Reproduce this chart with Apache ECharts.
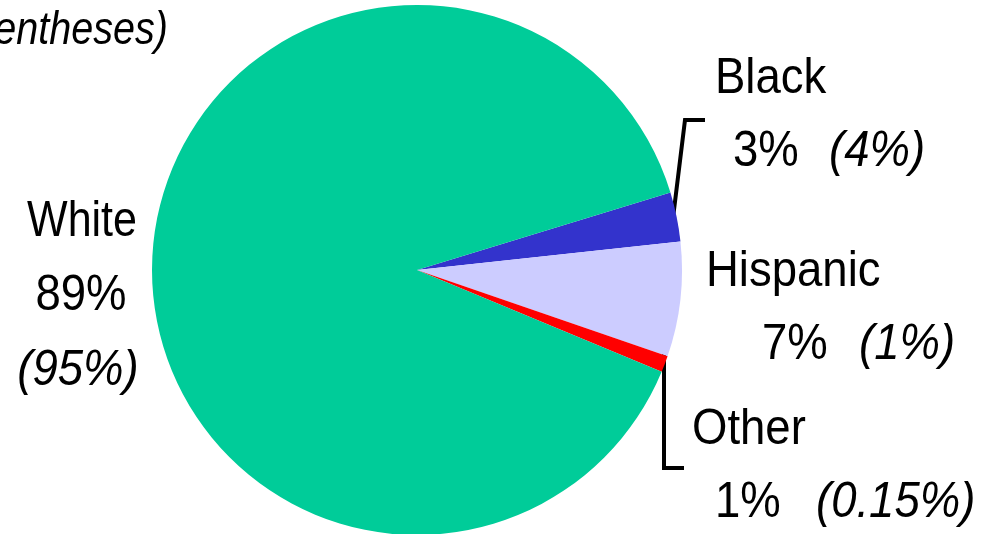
<!DOCTYPE html>
<html>
<head>
<meta charset="utf-8">
<script src="https://cdn.jsdelivr.net/npm/echarts@6/dist/echarts.min.js"></script>
<style>
  html, body { margin: 0; padding: 0; background: #fff; }
  #chart { width: 986px; height: 534px; }
</style>
</head>
<body>
<div id="chart"></div>
<script>
// slices in drawing order (clockwise from the top edge of Black)
var categories = ['Black', 'Hispanic', 'Other', 'White']
var shares = [3, 7, 1, 89]
var earlierShares = ['4%', '1%', '0.15%', '95%']
var colors = ['#3333cc', '#ccccff', '#ff0000', '#00cc99']
var titleText = '(Earlier percentages in parentheses)'

var FONT = '"Liberation Sans", Arial, sans-serif'
var NARROW = 0.91 // no narrow face installed, squeeze the regular one

var chart = echarts.init(document.getElementById('chart'))

function txt (x, y, s, opts) {
  opts = opts || {}
  return {
    type: 'text',
    x: x,
    y: y,
    scaleX: opts.scale || NARROW,
    style: {
      text: s,
      fill: '#000',
      font: (opts.italic ? 'italic ' : '') + (opts.size || 50) + 'px ' + FONT,
      textAlign: opts.align || 'left',
      textVerticalAlign: 'middle'
    }
  }
}

// label placement: [name x, name y, pct x, pct y, earlier x]
var labelPos = {
  Black: [715, 79, 733, 152, 829],
  Hispanic: [706, 272, 762, 345, 859],
  Other: [692, 430, 715, 503, 816]
}

var graphics = [txt(168, 31, titleText, { italic: true, size: 46, align: 'right', scale: 0.86 })]
categories.forEach(function (c, i) {
  if (c === 'White') {
    graphics.push(txt(82, 222, c, { align: 'center', scale: 0.86 }))
    graphics.push(txt(81, 296, shares[i] + '%', { align: 'center' }))
    graphics.push(txt(78, 371, '(' + earlierShares[i] + ')', { italic: true, align: 'center' }))
  } else {
    var p = labelPos[c]
    graphics.push(txt(p[0], p[1], c))
    graphics.push(txt(p[2], p[3], shares[i] + '%'))
    graphics.push(txt(p[4], p[3], '(' + earlierShares[i] + ')', { italic: true }))
  }
})
// bracket leaders
graphics.push({
  type: 'polyline',
  shape: { points: [[673, 218], [685, 120], [705, 120]] },
  style: { stroke: '#000', lineWidth: 4, fill: null }
})
graphics.push({
  type: 'polyline',
  shape: { points: [[664, 352], [664, 468], [684, 468]] },
  style: { stroke: '#000', lineWidth: 4, fill: null }
})

var option = {
  backgroundColor: '#fff',
  animation: false,
  series: [{
    type: 'pie',
    center: [417, 270],
    radius: [0, 265],
    startAngle: 17,
    clockwise: true,
    label: { show: false },
    labelLine: { show: false },
    silent: true,
    data: categories.map(function (c, i) {
      return { name: c, value: shares[i], itemStyle: { color: colors[i] } }
    })
  }],
  graphic: graphics
}

chart.setOption(option)
</script>
</body>
</html>
